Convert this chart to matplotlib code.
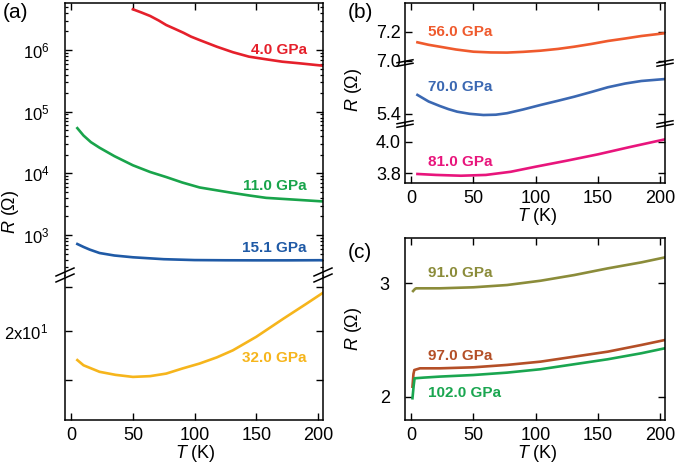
import matplotlib
matplotlib.use("Agg")
import matplotlib.pyplot as plt
from matplotlib.lines import Line2D
from matplotlib.ticker import LogLocator, NullLocator, FixedLocator, NullFormatter

plt.rcParams['font.family'] = ['Liberation Sans', 'DejaVu Sans']
plt.rcParams['mathtext.fontset'] = 'custom'
plt.rcParams['mathtext.rm'] = 'Liberation Sans'
plt.rcParams['mathtext.it'] = 'Liberation Sans:italic'

# ---------------- data ----------------
# (a)
T_4 = [50, 57, 64, 71, 77, 84, 91, 97, 104, 118, 131, 144, 158, 171, 185, 204]
R_4 = [4.57e6, 4.05e6, 3.56e6, 3.0e6, 2.54e6, 2.2e6, 1.9e6, 1.65e6, 1.45e6, 1.13e6,
       9.2e5, 7.8e5, 7.06e5, 6.46e5, 6.08e5, 5.56e5]
T_11 = [5, 10, 16, 23, 35, 50, 64, 77, 90, 104, 118, 131, 145, 158, 185, 204]
R_11 = [5.4e4, 4.1e4, 3.2e4, 2.6e4, 1.9e4, 1.35e4, 1.05e4, 8.7e3, 7.1e3, 5.9e3, 5.3e3,
        4.8e3, 4.35e3, 4.0e3, 3.7e3, 3.5e3]
T_15 = [5, 10, 15, 23, 35, 50, 75, 100, 125, 150, 175, 204]
R_15 = [714, 640, 580, 510, 465, 435, 405, 392, 389, 388, 388, 390]
T_32 = [5, 10, 23, 36, 50, 64, 77, 90, 104, 118, 131, 150, 172, 190, 204]
R_32 = [18.79, 18.58, 18.32, 18.2, 18.12, 18.15, 18.25, 18.45, 18.65, 18.9, 19.19,
        19.76, 20.55, 21.2, 21.73]
# (b)
T_56 = [5, 14, 23, 36, 50, 64, 77, 90, 104, 118, 131, 145, 158, 172, 185, 204]
R_56 = [7.127, 7.11, 7.097, 7.078, 7.063, 7.058, 7.057, 7.062, 7.07, 7.082, 7.097, 7.116,
        7.136, 7.153, 7.17, 7.189]
T_70 = [5, 14, 23, 30, 37, 47, 58, 68, 77, 90, 104, 118, 131, 145, 158, 172, 185, 204]
R_70 = [5.527, 5.483, 5.453, 5.432, 5.415, 5.401, 5.393, 5.395, 5.405, 5.43, 5.46, 5.488,
        5.515, 5.547, 5.578, 5.603, 5.62, 5.633]
T_81 = [5, 20, 40, 60, 80, 100, 125, 150, 175, 204]
R_81 = [3.796, 3.79, 3.785, 3.79, 3.81, 3.842, 3.88, 3.92, 3.965, 4.015]
# (c)
T_91 = [1.5, 3, 4, 23, 50, 77, 104, 131, 158, 185, 204]
R_91 = [2.932, 2.95, 2.956, 2.956, 2.965, 2.985, 3.023, 3.073, 3.132, 3.185, 3.229]
T_97 = [1, 1.8, 2.5, 7, 23, 50, 77, 104, 131, 158, 185, 204]
R_97 = [2.088, 2.2, 2.235, 2.25, 2.25, 2.259, 2.28, 2.309, 2.353, 2.397, 2.456, 2.5]
T_102 = [1, 2, 2.7, 10, 23, 50, 77, 104, 131, 158, 185, 204]
R_102 = [1.986, 2.1, 2.162, 2.168, 2.177, 2.191, 2.212, 2.242, 2.286, 2.33, 2.383, 2.427]

x_ticks = [0, 50, 100, 150, 200]
x_ticklabels = ['0', '50', '100', '150', '200']

c_4, c_11, c_15, c_32 = '#e5202b', '#19a44b', '#1f5aa6', '#f6b51c'
c_56, c_70, c_81 = '#ef5a2d', '#3b68b2', '#e8157c'
c_91, c_97, c_102 = '#8b8c3a', '#b44f27', '#1aa650'

# ---------------- figure ----------------
W, H = 675, 467
fig = plt.figure(figsize=(W / 100, H / 100), dpi=100)


def ax_px(l, t, r, b):
    return fig.add_axes([l / W, 1 - b / H, (r - l) / W, (b - t) / H])


FS = 13
LW = 1.9
XL = (-5, 204)


def style(ax, top=True, bottom=True, ypad=3, ysize=FS):
    ax.set_xlim(*XL)
    ax.set_xticks(x_ticks)
    for s in ax.spines.values():
        s.set_linewidth(1.1)
    ax.spines['top'].set_visible(top)
    ax.spines['bottom'].set_visible(bottom)
    ax.tick_params(axis='both', which='major', direction='in', length=5, width=1.0,
                   labelsize=FS, left=True, right=True, top=top, bottom=bottom,
                   labelbottom=bottom)
    ax.tick_params(axis='y', which='major', pad=ypad, labelsize=ysize)
    ax.tick_params(axis='x', which='major', pad=5)
    ax.tick_params(axis='both', which='minor', direction='in', length=2.5, width=0.9,
                   left=True, right=True, top=False, bottom=False)
    ax.xaxis.set_minor_locator(NullLocator())
    if bottom:
        ax.set_xticklabels(x_ticklabels)


def brk(x, y, w, rise, gap):
    for dy in (-gap / 2, gap / 2):
        ln = Line2D([(x - w / 2) / W, (x + w / 2) / W],
                    [1 - (y + dy + rise / 2) / H, 1 - (y + dy - rise / 2) / H],
                    transform=fig.transFigure, color='black', lw=1.1)
        fig.add_artist(ln)


# ---- (a) ----
aU = ax_px(65, 3, 323, 276)
aL = ax_px(65, 276, 323, 420)
aU.plot(T_4, R_4, color=c_4, lw=LW)
aU.plot(T_11, R_11, color=c_11, lw=LW)
aU.plot(T_15, R_15, color=c_15, lw=LW)
aU.set_yscale('log')
aU.set_ylim(10 ** 2.335, 10 ** 6.762)
aU.yaxis.set_major_locator(FixedLocator([1e3, 1e4, 1e5, 1e6]))
aU.set_yticklabels(['10$^3$', '10$^4$', '10$^5$', '10$^6$'])
aU.yaxis.set_minor_locator(LogLocator(base=10, subs=range(2, 10), numticks=20))
aU.yaxis.set_minor_formatter(NullFormatter())
style(aU, top=True, bottom=False, ypad=11, ysize=12)

aL.plot(T_32, R_32, color=c_32, lw=LW)
aL.set_yscale('log')
aL.set_ylim(16.51, 22.53)
aL.yaxis.set_major_locator(FixedLocator([18, 20, 22]))
aL.set_yticklabels(['', '2x10$^1$', ''])
aL.yaxis.set_minor_locator(NullLocator())
aL.yaxis.set_minor_formatter(NullFormatter())
style(aL, top=False, bottom=True, ypad=12, ysize=12)

brk(65, 275, 18, 8, 6)
brk(323, 275, 18, 8, 6)

fig.text(307 / W, 1 - 50 / H, '4.0 GPa', color=c_4, ha='right', va='center', fontsize=11, fontweight='bold')
fig.text(307 / W, 1 - 186 / H, '11.0 GPa', color=c_11, ha='right', va='center', fontsize=11, fontweight='bold')
fig.text(307 / W, 1 - 248 / H, '15.1 GPa', color=c_15, ha='right', va='center', fontsize=11, fontweight='bold')
fig.text(307 / W, 1 - 358 / H, '32.0 GPa', color=c_32, ha='right', va='center', fontsize=11, fontweight='bold')

fig.text(11 / W, 1 - 212 / H, r'$\mathit{R}$ (Ω)', rotation=90, ha='center', va='center', fontsize=FS)
fig.text(195 / W, 1 - 453 / H, r'$\mathit{T}$ (K)', ha='center', va='center', fontsize=FS)
fig.text(15 / W, 1 - 13 / H, '(a)', ha='center', va='center', fontsize=15)

# ---- (b) ----
b1 = ax_px(405, 3, 665, 63)
b2 = ax_px(405, 63, 665, 124)
b3 = ax_px(405, 124, 665, 183)
b1.plot(T_56, R_56, color=c_56, lw=LW)
b1.set_ylim(6.986, 7.395)
b1.set_yticks([7.0, 7.2])
b1.set_yticklabels(['7.0', '7.2'])
style(b1, top=True, bottom=False)

b2.plot(T_70, R_70, color=c_70, lw=LW)
b2.set_ylim(5.333, 5.74)
b2.set_yticks([5.4])
b2.set_yticklabels(['5.4'])
style(b2, top=False, bottom=False)

b3.plot(T_81, R_81, color=c_81, lw=LW)
b3.set_ylim(3.739, 4.112)
b3.set_yticks([3.8, 4.0])
b3.set_yticklabels(['3.8', '4.0'])
style(b3, top=False, bottom=True)

for yb in (63, 124):
    brk(405, yb, 16, 3, 3.5)
    brk(665, yb, 16, 3, 3.5)

fig.text(428 / W, 1 - 32 / H, '56.0 GPa', color=c_56, ha='left', va='center', fontsize=11, fontweight='bold')
fig.text(428 / W, 1 - 87 / H, '70.0 GPa', color=c_70, ha='left', va='center', fontsize=11, fontweight='bold')
fig.text(428 / W, 1 - 162 / H, '81.0 GPa', color=c_81, ha='left', va='center', fontsize=11, fontweight='bold')

fig.text(353 / W, 1 - 90 / H, r'$\mathit{R}$ (Ω)', rotation=90, ha='center', va='center', fontsize=FS)
fig.text(537 / W, 1 - 217 / H, r'$\mathit{T}$ (K)', ha='center', va='center', fontsize=FS)
fig.text(360 / W, 1 - 13 / H, '(b)', ha='center', va='center', fontsize=15)

# ---- (c) ----
cax = ax_px(405, 238, 665, 420)
cax.plot(T_91, R_91, color=c_91, lw=LW)
cax.plot(T_97, R_97, color=c_97, lw=LW)
cax.plot(T_102, R_102, color=c_102, lw=LW)
cax.set_ylim(1.794, 3.40)
cax.set_yticks([2, 3])
cax.set_yticklabels(['2', '3'])
style(cax, top=True, bottom=True, ypad=11)

fig.text(428 / W, 1 - 273 / H, '91.0 GPa', color=c_91, ha='left', va='center', fontsize=11, fontweight='bold')
fig.text(428 / W, 1 - 356 / H, '97.0 GPa', color=c_97, ha='left', va='center', fontsize=11, fontweight='bold')
fig.text(428 / W, 1 - 393 / H, '102.0 GPa', color=c_102, ha='left', va='center', fontsize=11, fontweight='bold')

fig.text(353 / W, 1 - 329 / H, r'$\mathit{R}$ (Ω)', rotation=90, ha='center', va='center', fontsize=FS)
fig.text(537 / W, 1 - 453 / H, r'$\mathit{T}$ (K)', ha='center', va='center', fontsize=FS)
fig.text(360 / W, 1 - 253 / H, '(c)', ha='center', va='center', fontsize=15)

fig.savefig('out.png', dpi=100)
